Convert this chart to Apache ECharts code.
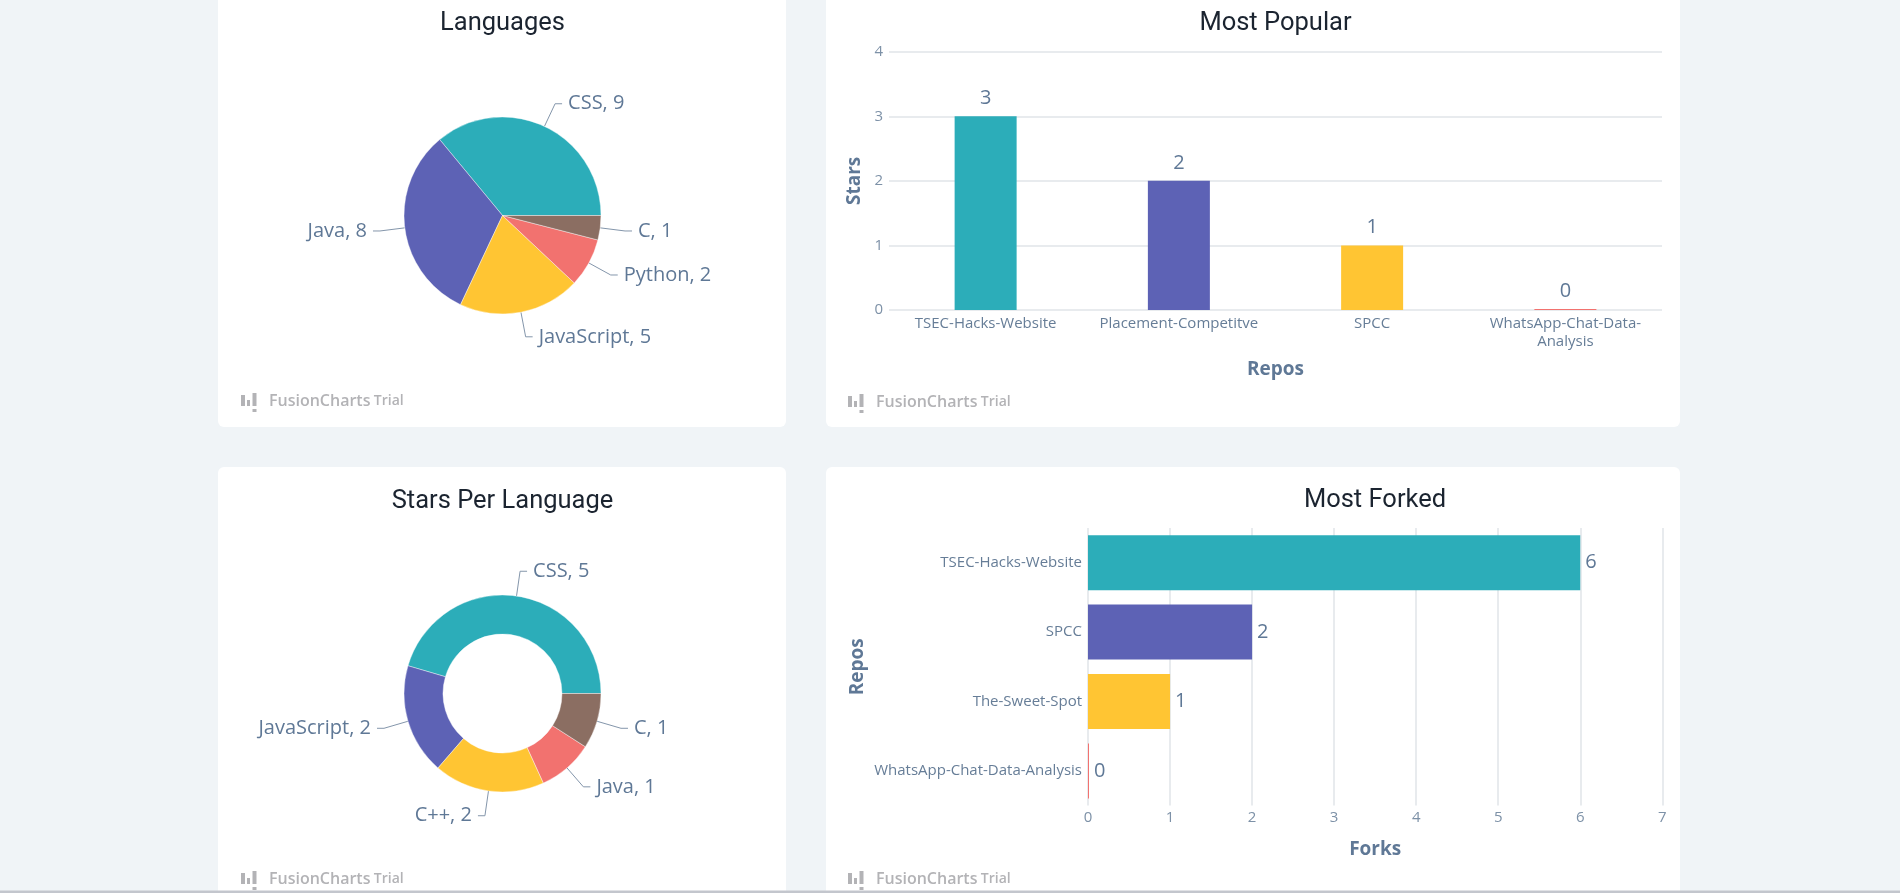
<!DOCTYPE html>
<html>
<head>
<meta charset="utf-8">
<title>Repo stats</title>
<script src="https://cdn.jsdelivr.net/npm/echarts@6/dist/echarts.min.js"></script>
<style>
  html, body { margin: 0; padding: 0; background: #f0f4f7; overflow: hidden; }
  #main { width: 1900px; height: 893px; }
</style>
</head>
<body>
<div id="main"></div>
<script>
// languages used across repos
var languageNames = ['CSS', 'Java', 'JavaScript', 'Python', 'C'];
var languageCounts = [9, 8, 5, 2, 1];

// stars grouped by language
var starLangNames = ['CSS', 'JavaScript', 'C++', 'Java', 'C'];
var starLangCounts = [5, 2, 2, 1, 1];

// most popular repos (stars)
var popularRepos = ['TSEC-Hacks-Website', 'Placement-Competitve', 'SPCC', 'WhatsApp-Chat-Data-Analysis'];
var popularStars = [3, 2, 1, 0];

// most forked repos
var forkedRepos = ['TSEC-Hacks-Website', 'SPCC', 'The-Sweet-Spot', 'WhatsApp-Chat-Data-Analysis'];
var forkCounts = [6, 2, 1, 0];

var palette = ['#2cadb9', '#5d62b5', '#ffc533', '#f2726f', '#8b6e62'];
var labelColor = '#5f7896';
var tickColor = '#7d91a7';
var gridColor = '#e0e4e9';
var fontLabel = '"Open Sans", "Noto Sans", sans-serif';
var fontTitle = 'Roboto, "Open Sans", sans-serif';

function toData(names, values) {
    var out = [];
    for (var i = 0; i < names.length; i++) {
        out.push({ name: names[i], value: values[i], itemStyle: { color: palette[i] } });
    }
    return out;
}

function card(x, y, w, h) {
    return {
        type: 'rect', z: -10, silent: true,
        shape: { x: x, y: y, width: w, height: h, r: 6 },
        style: { fill: '#ffffff' }
    };
}

function title(text, x, y) {
    return {
        type: 'text', z: 10, silent: true,
        style: {
            text: text, x: x, y: y, align: 'center', verticalAlign: 'middle',
            fontFamily: fontTitle, fontSize: 25.5, fill: '#1b2430'
        }
    };
}

// the grey trial mark in the corner of each card
function watermark(x, y) {
    var c = '#b3b3b6';
    return {
        type: 'group', x: x, y: y, silent: true,
        children: [
            { type: 'rect', shape: { x: 0, y: -6, width: 4, height: 11 }, style: { fill: c } },
            { type: 'rect', shape: { x: 6, y: -1, width: 3, height: 6 }, style: { fill: c } },
            { type: 'rect', shape: { x: 11.5, y: -8, width: 4, height: 13 }, style: { fill: c } },
            { type: 'rect', shape: { x: 11.5, y: 8, width: 4, height: 3 }, style: { fill: c } },
            {
                type: 'text',
                style: {
                    x: 28, y: 0, verticalAlign: 'middle',
                    text: '{a|FusionCharts} {b|Trial}',
                    rich: {
                        a: { fontFamily: fontLabel, fontSize: 16, fontWeight: 600, fill: c },
                        b: { fontFamily: fontLabel, fontSize: 14, fontWeight: 600, fill: c }
                    }
                }
            }
        ]
    };
}

function pieLabel() {
    return {
        show: true,
        formatter: '{b}, {c}',
        color: labelColor,
        fontFamily: fontLabel,
        fontSize: 20,
        padding: [5, 0, 0, 0],
        distanceToLabelLine: 6
    };
}

var myChart = echarts.init(document.getElementById('main'), null, { renderer: 'canvas' });

var option = {
    animation: false,
    textStyle: { fontFamily: fontLabel },
    graphic: [
        card(218, -20, 568, 447),
        card(826, -20, 854, 447),
        card(218, 467, 568, 460),
        card(826, 467, 854, 460),
        title('Languages', 502.5, 23.5),
        title('Most Popular', 1275.5, 23.5),
        title('Stars Per Language', 502.5, 502),
        title('Most Forked', 1375, 501),
        watermark(241, 401),
        watermark(848, 402),
        watermark(241, 879),
        watermark(848, 879),
        {
            type: 'rect', silent: true, z: 20,
            shape: { x: 0, y: 890.5, width: 1900, height: 2.5 },
            style: { fill: '#c3c6cd' }
        }
    ],
    grid: [
        { left: 889, top: 51.7, width: 773, height: 258.3 },
        { left: 1088, top: 528, width: 574.3, height: 277.6 }
    ],
    xAxis: [
        {
            gridIndex: 0,
            type: 'category',
            data: popularRepos,
            axisLine: { show: false },
            axisTick: { show: false },
            axisLabel: {
                color: '#667d97', fontSize: 15, margin: 5, lineHeight: 18,
                interval: 0,
                formatter: function (v) {
                    // long names wrap after the third dash
                    if (v.length > 22) {
                        var parts = v.split('-');
                        return parts.slice(0, 3).join('-') + '-\n' + parts.slice(3).join('-');
                    }
                    return v;
                }
            },
            name: 'Repos',
            nameLocation: 'middle',
            nameGap: 50,
            nameTextStyle: { color: labelColor, fontSize: 19, fontWeight: 'bold' }
        },
        {
            gridIndex: 1,
            type: 'value',
            min: 0, max: 7, interval: 1,
            axisLine: { show: false },
            axisTick: { show: false },
            axisLabel: { color: tickColor, fontSize: 15, margin: 5 },
            splitLine: { lineStyle: { color: gridColor, width: 1.5 } },
            name: 'Forks',
            nameLocation: 'middle',
            nameGap: 34,
            nameTextStyle: { color: labelColor, fontSize: 19, fontWeight: 'bold' }
        }
    ],
    yAxis: [
        {
            gridIndex: 0,
            type: 'value',
            min: 0, max: 4, interval: 1,
            axisLine: { show: false },
            axisTick: { show: false },
            axisLabel: { color: tickColor, fontSize: 15, margin: 6 },
            splitLine: { lineStyle: { color: gridColor, width: 1.5 } },
            name: 'Stars',
            nameLocation: 'middle',
            nameRotate: 90,
            nameGap: 25,
            nameTextStyle: { color: labelColor, fontSize: 19, fontWeight: 'bold' }
        },
        {
            gridIndex: 1,
            type: 'category',
            data: forkedRepos,
            inverse: true,
            axisLine: { show: false },
            axisTick: { show: false },
            axisLabel: { color: '#667d97', fontSize: 15, margin: 6, interval: 0 },
            name: 'Repos',
            nameLocation: 'middle',
            nameRotate: 90,
            nameGap: 221,
            nameTextStyle: { color: labelColor, fontSize: 19, fontWeight: 'bold' }
        }
    ],
    series: [
        {
            name: 'Languages',
            type: 'pie',
            center: [502.5, 215.5],
            radius: 98.5,
            startAngle: 0,
            clockwise: false,
            data: toData(languageNames, languageCounts),
            itemStyle: { borderColor: 'rgba(255,255,255,0.5)', borderWidth: 0.8 },
            label: pieLabel(),
            labelLine: { length: 25, length2: 7, lineStyle: { color: '#8496ab', width: 1 } }
        },
        {
            name: 'Stars Per Language',
            type: 'pie',
            center: [502.5, 693.5],
            radius: [59.5, 98.5],
            startAngle: 0,
            clockwise: false,
            data: toData(starLangNames, starLangCounts),
            itemStyle: { borderColor: 'rgba(255,255,255,0.5)', borderWidth: 0.8 },
            label: pieLabel(),
            labelLine: { length: 25, length2: 7, lineStyle: { color: '#8496ab', width: 1 } }
        },
        {
            name: 'Stars',
            type: 'bar',
            xAxisIndex: 0,
            yAxisIndex: 0,
            barWidth: 62,
            barMinHeight: 1,
            data: toData(popularRepos, popularStars),
            label: {
                show: true, position: 'top', distance: 8,
                color: labelColor, fontSize: 20
            }
        },
        {
            name: 'Forks',
            type: 'bar',
            xAxisIndex: 1,
            yAxisIndex: 1,
            barWidth: 55,
            barMinHeight: 1,
            data: toData(forkedRepos, forkCounts),
            label: {
                show: true, position: 'right', distance: 5,
                color: labelColor, fontSize: 20
            }
        }
    ]
};

myChart.setOption(option);
</script>
</body>
</html>
